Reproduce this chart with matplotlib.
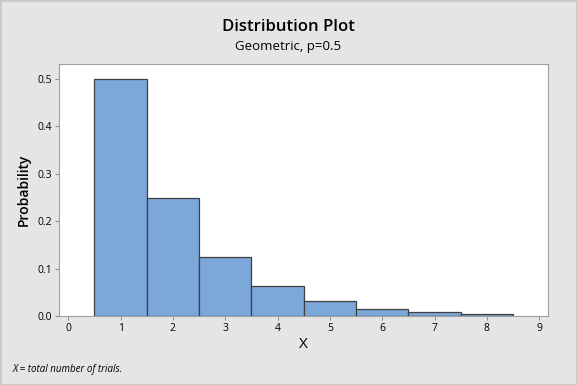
import matplotlib
matplotlib.use("Agg")
import matplotlib.pyplot as plt

# Geometric distribution, p = 0.5
x_values = [1, 2, 3, 4, 5, 6, 7, 8]
probabilities = [0.5, 0.25, 0.125, 0.0625, 0.03125, 0.015625, 0.0078125, 0.00390625]
x_ticks = [0, 1, 2, 3, 4, 5, 6, 7, 8, 9]
y_ticks = [0.0, 0.1, 0.2, 0.3, 0.4, 0.5]

plt.rcParams['font.family'] = ['Open Sans', 'DejaVu Sans']

fig = plt.figure(figsize=(5.77, 3.85), dpi=100, facecolor='#e5e5e5')
ax = fig.add_axes([0.102, 0.179, 0.848, 0.655])

ax.bar(x_values, probabilities, width=1.0, color='#7ba7d9', edgecolor='#404040', linewidth=0.9)

ax.set_xlim(-0.18, 9.17)
ax.set_ylim(0, 0.532)
ax.set_xticks(x_ticks)
ax.set_yticks(y_ticks)
ax.set_yticklabels([f"{v:.1f}" for v in y_ticks])
ax.tick_params(axis='both', labelsize=7.5, length=3, color='#909090', pad=2)

for s in ax.spines.values():
    s.set_color('#a0a0a0')

ax.set_xlabel("X", fontsize=11, labelpad=2)
ax.set_ylabel("Probability", fontsize=10, fontweight='semibold', labelpad=5)

fig.text(0.5, 0.93, "Distribution Plot", ha='center', va='center', fontsize=12, fontweight='semibold')
fig.text(0.5, 0.88, "Geometric, p=0.5", ha='center', va='center', fontsize=9.5)
fig.text(0.021, 0.04, "X = total number of trials.", ha='left', va='center', fontsize=7, style='italic')

# thin light border round the figure
fig.patches.append(plt.Rectangle((0, 0), 1, 1, transform=fig.transFigure, fill=False,
                                 edgecolor='#c8c8c8', linewidth=2))

fig.savefig("out.png", dpi=100, facecolor=fig.get_facecolor())
